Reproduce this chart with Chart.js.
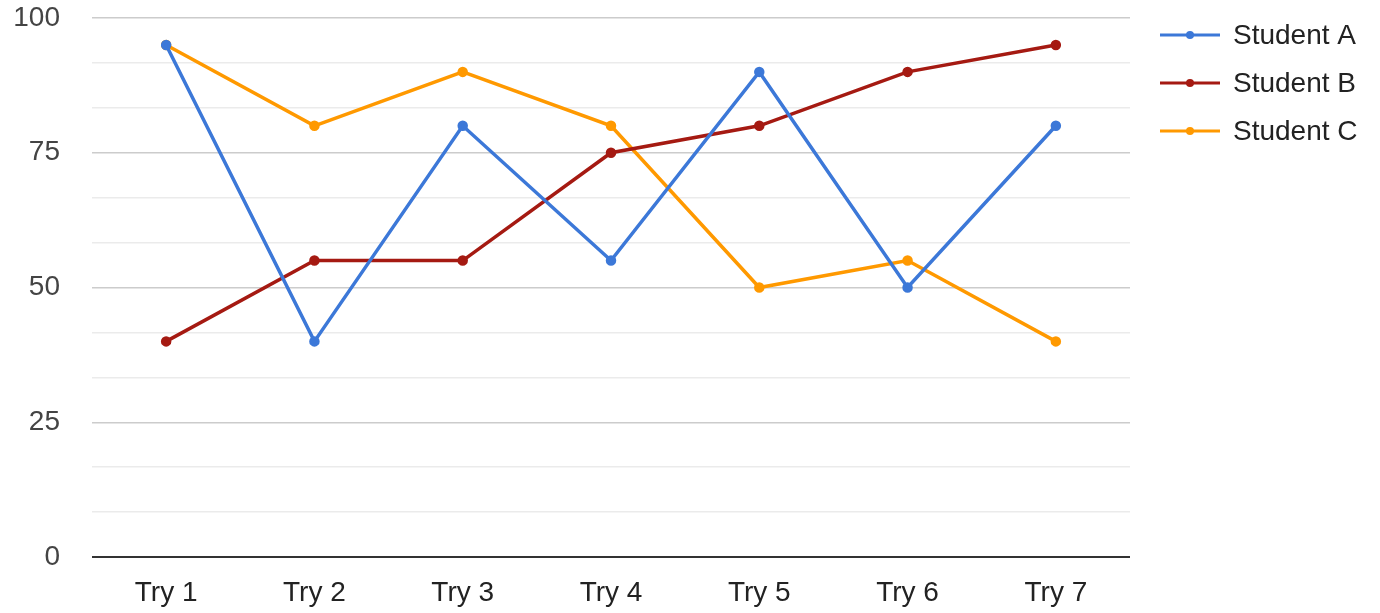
<!DOCTYPE html>
<html>
<head>
<meta charset="utf-8">
<script src="https://cdn.jsdelivr.net/npm/chart.js@4/dist/chart.umd.min.js"></script>
<style>
  html, body { margin: 0; padding: 0; background: #fff; }
  #wrap { width: 1380px; height: 613px; position: relative; }
</style>
</head>
<body>
<div id="wrap"><canvas id="scoreChart" width="1380" height="613"></canvas></div>
<script>
"use strict";

// Chart data
var tries = ['Try 1', 'Try 2', 'Try 3', 'Try 4', 'Try 5', 'Try 6', 'Try 7'];
var studentA = [95, 40, 80, 55, 90, 50, 80];
var studentB = [40, 55, 55, 75, 80, 90, 95];
var studentC = [95, 80, 90, 80, 50, 55, 40];
var seriesNames = ['Student A', 'Student B', 'Student C'];
var yTickLabels = [0, 25, 50, 75, 100];

var colors = ['#3c78d8', '#a51a12', '#ff9900'];
var FONT = '"Liberation Sans", Arial, sans-serif';

function isMajor(v) {
    return yTickLabels.some(function (t) { return Math.abs(t - v) < 1e-6; });
}

// Legend drawn to the right: short line with a dot, then the label
var sideLegend = {
    id: 'sideLegend',
    afterDraw: function (chart) {
        var ctx = chart.ctx;
        ctx.save();
        chart.data.datasets.forEach(function (ds, i) {
            var y = 35 + i * 48;
            ctx.strokeStyle = ds.borderColor;
            ctx.lineWidth = 3;
            ctx.beginPath();
            ctx.moveTo(1160, y);
            ctx.lineTo(1220, y);
            ctx.stroke();
            ctx.fillStyle = ds.borderColor;
            ctx.beginPath();
            ctx.arc(1190, y, 4, 0, Math.PI * 2);
            ctx.fill();
            ctx.fillStyle = '#222';
            ctx.font = '28px ' + FONT;
            ctx.textAlign = 'left';
            ctx.textBaseline = 'middle';
            ctx.fillText(ds.label, 1233, y + 1);
        });
        ctx.restore();
    }
};

var ctx = document.getElementById('scoreChart').getContext('2d');
var scoreChart = new Chart(ctx, {
    type: 'line',
    data: {
        labels: tries,
        datasets: [studentA, studentB, studentC].map(function (d, i) {
            return {
                label: seriesNames[i],
                data: d,
                borderColor: colors[i],
                backgroundColor: colors[i],
                pointBackgroundColor: colors[i],
                pointBorderColor: colors[i],
                borderWidth: 3.5,
                pointRadius: 3.5,
                tension: 0,
                fill: false
            };
        })
    },
    options: {
        responsive: false,
        animation: false,
        devicePixelRatio: 1,
        layout: { padding: { top: 18, right: 250, left: 0, bottom: 0 } },
        plugins: {
            legend: { display: false },
            tooltip: { enabled: false }
        },
        scales: {
            x: {
                offset: true,
                grid: { display: false, drawTicks: false },
                border: { display: false },
                ticks: { color: '#222', font: { family: FONT, size: 28 }, padding: 19, maxRotation: 0 },
                afterFit: function (s) { s.height = 56; s.paddingLeft = 0; s.paddingRight = 0; }
            },
            y: {
                min: 0,
                max: 100,
                ticks: {
                    stepSize: 25 / 3,
                    autoSkip: false,
                    color: '#444',
                    padding: 32,
                    font: { family: FONT, size: 28 },
                    callback: function (value) {
                        return isMajor(value) ? Math.round(value) : '';
                    }
                },
                grid: {
                    drawTicks: false,
                    lineWidth: function (c) { return c.tick && c.tick.value === 0 ? 2 : 1.5; },
                    color: function (c) {
                        if (!c.tick) return '#ebebeb';
                        if (Math.abs(c.tick.value) < 1e-6) return '#333';
                        return isMajor(c.tick.value) ? '#cccccc' : '#ebebeb';
                    }
                },
                border: { display: false },
                afterFit: function (s) { s.width = 92; s.paddingTop = 0; s.paddingBottom = 0; }
            }
        }
    },
    plugins: [sideLegend]
});
</script>
</body>
</html>
